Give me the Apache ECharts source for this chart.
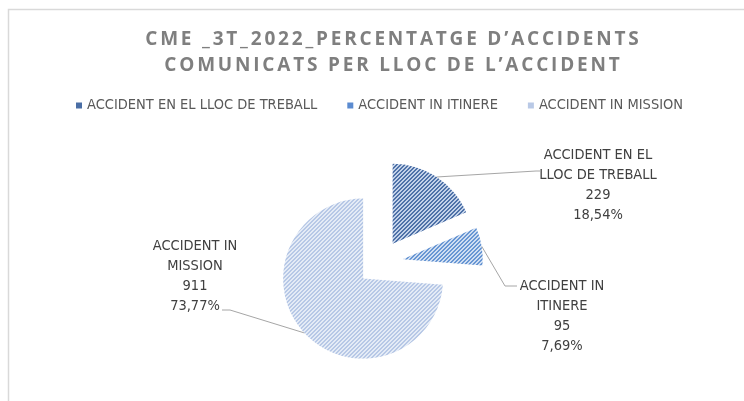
<!DOCTYPE html>
<html><head><meta charset="utf-8">
<script src="https://cdn.jsdelivr.net/npm/echarts@6/dist/echarts.min.js"></script>
<style>html,body{margin:0;padding:0;background:#fff}#c{width:744px;height:401px}</style>
</head><body><div id="c"></div>
<script>
const categories = ['ACCIDENT EN EL LLOC DE TREBALL', 'ACCIDENT IN ITINERE', 'ACCIDENT IN MISSION'];
const labelNames = ['ACCIDENT EN EL\nLLOC DE TREBALL', 'ACCIDENT IN\nITINERE', 'ACCIDENT IN\nMISSION'];
const values = [229, 95, 911];
const titleLines = ['CME _3T_2022_PERCENTATGE D’ACCIDENTS', 'COMUNICATS PER LLOC DE L’ACCIDENT'];

const stripeColors = [['#4f72a8', '#c3d2e9'], ['#6896d3', '#cfdef2'], ['#b7c8e6', '#e4ebf6']];
const legendColors = ['#4a6ea5', '#5b8bd0', '#b9c9e6'];
const labelPos = [[598, 185], [562, 316], [195, 276]];
// leader-line label-side points (elbow, end); the slice-side point comes from the library
const leaderEnds = [[[536, 171], [540, 171]], [[505, 286], [517, 286]], [[230, 310], [222, 310]]];
const pieCenter = [380, 263];
const explode = 23;
const narrow = '"Liberation Sans Narrow", "DejaVu Sans Condensed", Roboto, sans-serif';

// letter-spaced title (canvas letterSpacing only for title lines)
(function () {
  const proto = CanvasRenderingContext2D.prototype;
  const orig = proto.fillText;
  proto.fillText = function (t, x, y, m) {
    if (titleLines.indexOf(t) >= 0 && 'letterSpacing' in this) {
      const prev = this.letterSpacing;
      this.letterSpacing = '2.8px';
      const r = m === undefined ? orig.call(this, t, x + 1.4, y) : orig.call(this, t, x + 1.4, y, m);
      this.letterSpacing = prev;
      return r;
    }
    return m === undefined ? orig.call(this, t, x, y) : orig.call(this, t, x, y, m);
  };
})();

function pattern(dark, light) {
  const n = 4, c = document.createElement('canvas');
  c.width = n; c.height = n;
  const g = c.getContext('2d');
  for (let x = 0; x < n; x++) for (let y = 0; y < n; y++) {
    g.fillStyle = ((x + y) % n < 2) ? dark : light;
    g.fillRect(x, y, 1, 1);
  }
  return c;
}

const total = values.reduce((a, b) => a + b, 0);
let cum = 0;
const series = values.map((v, k) => {
  const mid = (cum + v / 2) / total * 2 * Math.PI;
  cum += v;
  const cx = pieCenter[0] + explode * Math.sin(mid);
  const cy = pieCenter[1] - explode * Math.cos(mid);
  return {
    type: 'pie',
    center: [cx, cy],
    radius: 80,
    startAngle: 90,
    clockwise: true,
    avoidLabelOverlap: false,
    emphasis: {disabled: true},
    silent: true,
    label: {
      show: true,
      position: 'outside',
      fontFamily: narrow, fontSize: 14.5, color: '#404040', lineHeight: 20, align: 'center',
      formatter: p => labelNames[p.dataIndex] + '\n' + p.value + '\n' + p.percent.toFixed(2).replace('.', ',') + '%'
    },
    labelLine: {show: true, length: 10, length2: 10, lineStyle: {color: '#a6a6a6', width: 1}},
    labelLayout: p => {
      const o = {x: labelPos[p.dataIndex][0], y: labelPos[p.dataIndex][1], align: 'center', verticalAlign: 'middle'};
      if (p.labelLinePoints && p.labelLinePoints[0]) {
        o.labelLinePoints = [p.labelLinePoints[0].slice(), leaderEnds[p.dataIndex][0], leaderEnds[p.dataIndex][1]];
      }
      return o;
    },
    data: categories.map((n, i) => (i === k ? {
      name: n, value: values[i],
      itemStyle: {color: {image: pattern(stripeColors[i][0], stripeColors[i][1]), repeat: 'repeat'}}
    } : {
      name: n, value: values[i],
      itemStyle: {color: 'rgba(0,0,0,0)'},
      label: {show: false}, labelLine: {show: false}
    }))
  };
});

const chart = echarts.init(document.getElementById('c'), null, {renderer: 'canvas'});
chart.setOption({
  animation: false,
  backgroundColor: '#ffffff',
  color: legendColors,
  graphic: [{
    type: 'rect', silent: true, z: -10,
    shape: {x: 8.5, y: 9.5, width: 800, height: 500},
    style: {fill: 'none', stroke: '#d9d9d9', lineWidth: 1.5}
  }],
  title: {
    text: titleLines.join('\n'),
    left: 387, top: 22, textAlign: 'center',
    textStyle: {fontFamily: '"Open Sans", sans-serif', fontSize: 19, fontWeight: 'bold', color: '#7f7f7f', lineHeight: 26}
  },
  legend: {
    top: 93, left: 71,
    icon: 'rect', itemWidth: 6, itemHeight: 6, itemGap: 30,
    textStyle: {fontFamily: narrow, fontSize: 14.5, color: '#595959'},
    data: categories.map((n, i) => ({name: n, itemStyle: {color: legendColors[i]}}))
  },
  series: series
});
</script></body></html>
